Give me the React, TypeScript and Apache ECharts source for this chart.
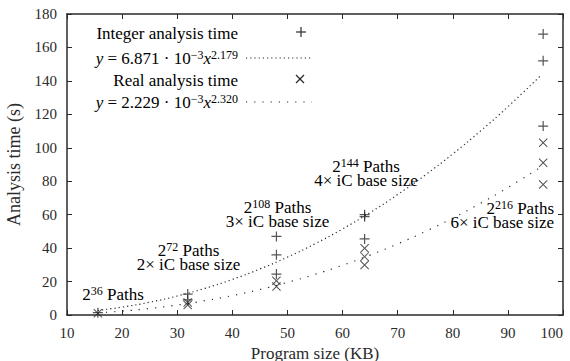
import React, { useEffect, useRef } from "react";
import * as echarts from "echarts";

const X_TICKS = [10, 100, 10];
const Y_TICKS = [0, 180, 20];

const INTEGER_TIMES: [number, number][] = [
  [15.6, 1.4],
  [31.9, 12.5], [31.9, 9],
  [48.0, 47], [48.0, 36], [48.0, 24.5],
  [64.0, 60], [64.0, 58.8], [64.0, 45.5],
  [96.4, 168], [96.4, 152], [96.4, 113],
];
const REAL_TIMES: [number, number][] = [
  [15.6, 1.0],
  [31.9, 7.5], [31.9, 6],
  [48.0, 20.5], [48.0, 17],
  [64.0, 39.9], [64.0, 34.9], [64.0, 29.9],
  [96.4, 103], [96.4, 91], [96.4, 78],
];

const FIT_X = [15.6, 20, 25, 30, 35, 40, 45, 50, 55, 60, 65, 70, 75, 80, 85, 90, 96];
const INTEGER_FIT = [2.73, 4.70, 7.64, 11.37, 15.90, 21.28, 27.50, 34.59, 42.57, 51.46, 61.27, 72.02, 83.70, 96.34, 109.96, 124.54, 143.33];
const REAL_FIT = [1.31, 2.33, 3.90, 5.96, 8.52, 11.61, 15.26, 19.48, 24.30, 29.74, 35.81, 42.53, 49.91, 57.97, 66.74, 76.20, 88.51];

const LEGEND_TEXT = [
  "{n|Integer analysis time}",
  "{i|y}{n| = 6.871 · 10}{s|−3}{i|x}{s|2.179}",
  "{n|Real analysis time}",
  "{i|y}{n| = 2.229 · 10}{s|−3}{i|x}{s|2.320}",
];

const ANNOTATIONS = [
  "{n|2}{s|36}{n| Paths}",
  "{n|2}{s|72}{n| Paths}\n{n|2× iC base size}",
  "{n|2}{s|108}{n| Paths}\n{n|3× iC base size}",
  "{n|2}{s|144}{n| Paths}\n{n|4× iC base size}",
  "{n|2}{s|216}{n| Paths}\n{n|6× iC base size}",
];

const FONT = "Liberation Serif";
const INK = "#2a2a2a";
const PLUS = "path://M4.4,0H5.6V4.4H10V5.6H5.6V10H4.4V5.6H0V4.4H4.4Z";
const CROSS = "path://M0,0.8L0.8,0L5,4.2L9.2,0L10,0.8L5.8,5L10,9.2L9.2,10L5,5.8L0.8,10L0,9.2L4.2,5Z";

const rich = {
  n: { fontSize: 17, fontFamily: FONT, color: INK, lineHeight: 14 },
  i: { fontSize: 17, fontFamily: FONT, color: INK, lineHeight: 14, fontStyle: "italic" },
  s: { fontSize: 12, fontFamily: FONT, color: INK, lineHeight: 14, padding: [0, 0, 7, 0] },
};

export default function App() {
  const ref = useRef<HTMLDivElement>(null);
  useEffect(() => {
    if (!ref.current) return;
    const chart = echarts.init(ref.current, undefined, { renderer: "svg" });
    const axisCommon = {
      type: "value",
      axisLine: { show: true, onZero: false, lineStyle: { color: INK, width: 1.5 } },
      axisTick: { show: true, inside: true, length: 5, lineStyle: { color: INK, width: 1 } },
      splitLine: { show: false },
    };
    const annPos = [
      { x: 113, y: 294, align: "center" },
      { x: 188.5, y: 257.5, align: "center" },
      { x: 277.5, y: 214, align: "center" },
      { x: 366, y: 173.5, align: "center" },
      { x: 554, y: 215.5, align: "right" },
    ];
    const legendY = [33, 58, 80, 102];
    const graphic: any[] = [];
    LEGEND_TEXT.forEach((t, k) => {
      graphic.push({
        type: "text",
        x: 238,
        y: legendY[k],
        style: { text: t, rich, align: "right", verticalAlign: "middle", fontFamily: FONT, fontSize: 17 },
      });
    });
    graphic.push(
      { type: "line", shape: { x1: 296, y1: 32, x2: 306, y2: 32 }, style: { stroke: INK, lineWidth: 1.2 } },
      { type: "line", shape: { x1: 301, y1: 27, x2: 301, y2: 37 }, style: { stroke: INK, lineWidth: 1.2 } },
      { type: "line", shape: { x1: 296, y1: 75, x2: 304, y2: 83 }, style: { stroke: INK, lineWidth: 1.2 } },
      { type: "line", shape: { x1: 304, y1: 75, x2: 296, y2: 83 }, style: { stroke: INK, lineWidth: 1.2 } },
      { type: "line", shape: { x1: 246, y1: 58, x2: 312, y2: 58 }, style: { stroke: INK, lineWidth: 1.2, lineDash: [1.2, 3] } },
      { type: "line", shape: { x1: 246, y1: 102, x2: 312, y2: 102 }, style: { stroke: INK, lineWidth: 1.2, lineDash: [1.2, 7] } }
    );
    ANNOTATIONS.forEach((t, k) => {
      graphic.push({
        type: "text",
        x: annPos[k].x,
        y: annPos[k].y,
        style: { text: t, rich, align: annPos[k].align, verticalAlign: "middle", fontFamily: FONT, fontSize: 17 },
      });
    });

    chart.setOption({
      animation: false,
      backgroundColor: "#ffffff",
      textStyle: { fontFamily: FONT },
      grid: { left: 67, right: 7, top: 14, bottom: 46, containLabel: false, outerBoundsMode: "none" },
      xAxis: [
        {
          ...axisCommon,
          position: "bottom",
          min: X_TICKS[0], max: X_TICKS[1], interval: X_TICKS[2],
          axisLabel: { fontFamily: FONT, fontSize: 15, color: INK, margin: 10, alignMaxLabel: "right" },
          name: "Program size (KB)",
          nameLocation: "middle",
          nameGap: 21,
          nameTextStyle: { fontFamily: FONT, fontSize: 17, color: INK },
        },
        {
          ...axisCommon,
          position: "top",
          min: X_TICKS[0], max: X_TICKS[1], interval: X_TICKS[2],
          axisLabel: { show: false },
        },
      ],
      yAxis: [
        {
          ...axisCommon,
          position: "left",
          min: Y_TICKS[0], max: Y_TICKS[1], interval: Y_TICKS[2],
          axisLabel: { fontFamily: FONT, fontSize: 15, color: INK, margin: 10 },
          name: "Analysis time (s)",
          nameLocation: "middle",
          nameGap: 44,
          nameTextStyle: { fontFamily: FONT, fontSize: 18, color: INK },
        },
        {
          ...axisCommon,
          position: "right",
          min: Y_TICKS[0], max: Y_TICKS[1], interval: Y_TICKS[2],
          axisLabel: { show: false },
        },
      ],
      series: [
        {
          name: "Integer fit",
          type: "line",
          data: FIT_X.map((x, k) => [x, INTEGER_FIT[k]]),
          smooth: true,
          showSymbol: false,
          lineStyle: { color: INK, width: 1.2, type: [1.2, 3] },
          z: 2,
        },
        {
          name: "Real fit",
          type: "line",
          data: FIT_X.map((x, k) => [x, REAL_FIT[k]]),
          smooth: true,
          showSymbol: false,
          lineStyle: { color: INK, width: 1.2, type: [1.2, 7] },
          z: 2,
        },
        {
          name: "Integer analysis time",
          type: "scatter",
          data: INTEGER_TIMES,
          symbol: PLUS,
          symbolSize: 10,
          itemStyle: { color: INK },
          z: 3,
        },
        {
          name: "Real analysis time",
          type: "scatter",
          data: REAL_TIMES,
          symbol: CROSS,
          symbolSize: 9,
          itemStyle: { color: INK },
          z: 3,
        },
      ],
      graphic,
    });
    return () => chart.dispose();
  }, []);
  return (
    <div
      ref={ref}
      style={{ position: "fixed", left: 0, top: 0, width: 570, height: 361 }}
    />
  );
}
